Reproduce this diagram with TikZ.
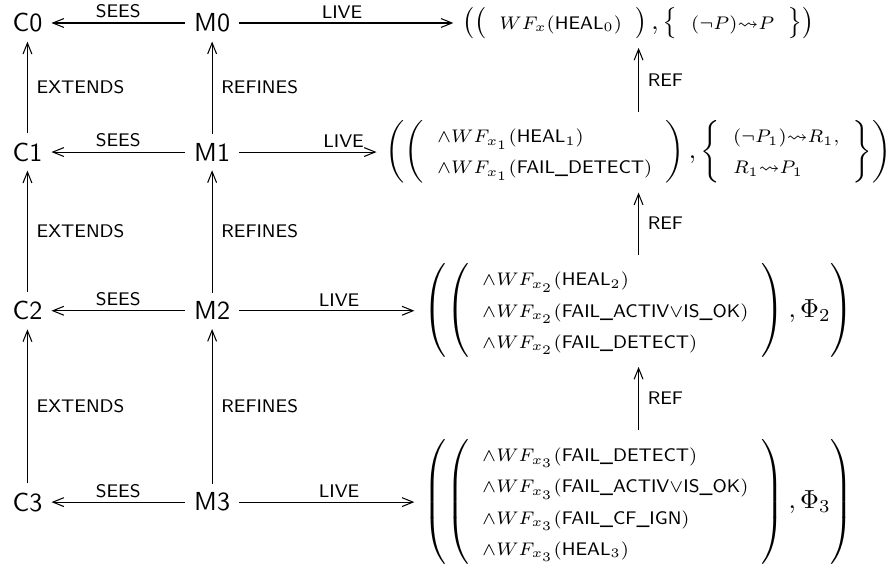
\documentclass[tikz,border=0pt]{standalone}
\usepackage{amsmath}
\usepackage{amssymb}
\usepackage{tikz}
\usetikzlibrary{positioning, calc, arrows.meta}

\newcommand{\wfx}[2]{\scriptstyle\wedge WF_{x_{#1}}(#2)}
\newcommand{\evt}[1]{\textsf{#1}}

\begin{document}
\begin{tikzpicture}[
  obj/.style={font=\sffamily},
  lbl/.style={font=\sffamily\scriptsize},
  toplbl/.style={lbl, above, inner sep=1.6pt},
  rel/.style={-{Straight Barb[length=4.2pt,width=3.4pt]}}
]
\useasboundingbox (0,0) rectangle (12.0,-7.70);

% Contexts
\node[obj] (c0) at (0.37,-0.31) {C0};
\node[obj] (c1) at (0.37,-2.05) {C1};
\node[obj] (c2) at (0.37,-4.19) {C2};
\node[obj] (c3) at (0.37,-6.77) {C3};

% Machines
\node[obj] (m0) at (2.86,-0.31) {M0};
\node[obj] (m1) at (2.86,-2.05) {M1};
\node[obj] (m2) at (2.86,-4.19) {M2};
\node[obj] (m3) at (2.86,-6.77) {M3};

% Liveness properties
\node (f0) at (8.61,-0.31) {$\left(\left(\begin{array}{l}\scriptstyle WF_x(\evt{HEAL}_0)\end{array}\right),\left\{\begin{array}{l}\scriptstyle(\neg P)\leadsto P\end{array}\right\}\right)$};
\node (f1) at (8.61,-2.05) {$\left(\left(\begin{array}{l}\wfx{1}{\evt{HEAL}_1}\\ \wfx{1}{\evt{FAIL\_DETECT}}\end{array}\right),\left\{\begin{array}{l}\scriptstyle(\neg P_1)\leadsto R_1,\\ \scriptstyle R_1\leadsto P_1\end{array}\right\}\right)$};
\node (f2) at (8.61,-4.19) {$\left(\left(\begin{array}{l}\wfx{2}{\evt{HEAL}_2}\\ \wfx{2}{\evt{FAIL\_ACTIV}\vee\evt{IS\_OK}}\\ \wfx{2}{\evt{FAIL\_DETECT}}\end{array}\right),\Phi_2\right)$};
\node (f3) at (8.61,-6.77) {$\left(\left(\begin{array}{l}\wfx{3}{\evt{FAIL\_DETECT}}\\ \wfx{3}{\evt{FAIL\_ACTIV}\vee\evt{IS\_OK}}\\ \wfx{3}{\evt{FAIL\_CF\_IGN}}\\ \wfx{3}{\evt{HEAL}_3}\end{array}\right),\Phi_3\right)$};

% SEES
\draw[rel] (m0) -- node[toplbl] {SEES} (c0);
\draw[rel] (m1) -- node[toplbl] {SEES} (c1);
\draw[rel] (m2) -- node[toplbl] {SEES} (c2);
\draw[rel] (m3) -- node[toplbl] {SEES} (c3);

% EXTENDS
\draw[rel] (c1) -- node[lbl, right] {EXTENDS} (c0);
\draw[rel] (c2) -- node[lbl, right] {EXTENDS} (c1);
\draw[rel] (c3) -- node[lbl, right] {EXTENDS} (c2);

% REFINES
\draw[rel] (m1) -- node[lbl, right] {REFINES} (m0);
\draw[rel] (m2) -- node[lbl, right] {REFINES} (m1);
\draw[rel] (m3) -- node[lbl, right] {REFINES} (m2);

% LIVE
\draw[rel] (m0) -- node[toplbl, pos=0.48] {LIVE} (f0);
\draw[rel] (m1) -- node[toplbl, pos=0.76] {LIVE} (f1);
\draw[rel] (m2) -- node[toplbl, pos=0.57] {LIVE} (f2);
\draw[rel] (m3) -- node[toplbl, pos=0.57] {LIVE} (f3);

% REF
\draw[rel] (f1) -- node[lbl, right] {REF} (f0);
\draw[rel] (f2) -- node[lbl, right] {REF} (f1);
\draw[rel] (f3) -- node[lbl, right] {REF} (f2);

\end{tikzpicture}
\end{document}
